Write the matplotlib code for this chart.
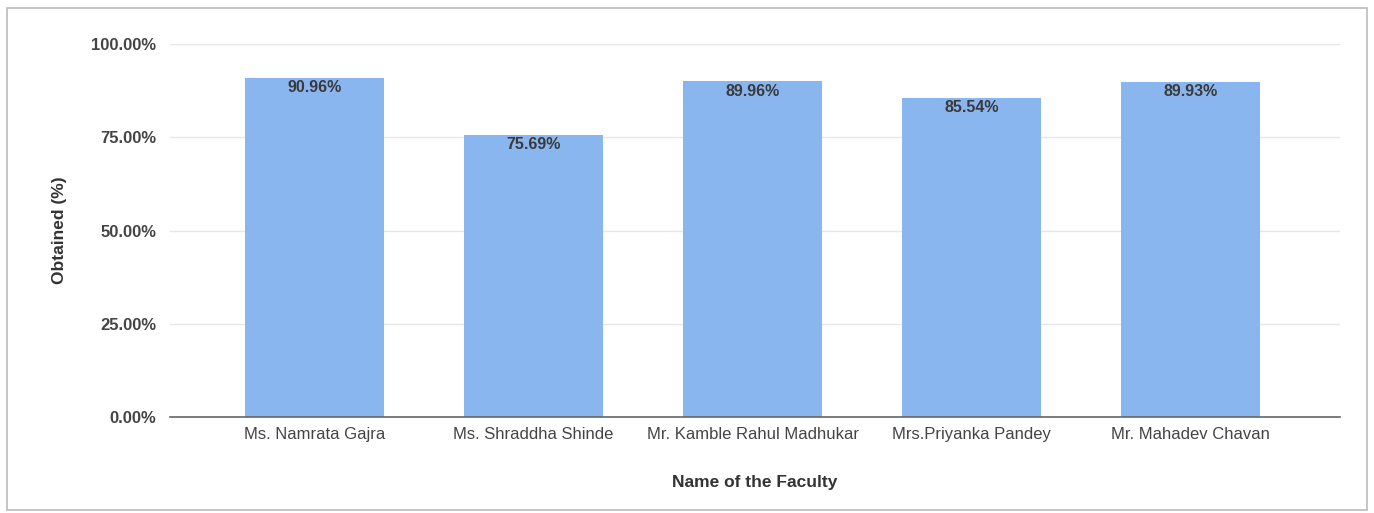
import matplotlib.pyplot as plt
from matplotlib.patches import Rectangle

plt.rcParams["font.family"] = ["Liberation Sans", "DejaVu Sans"]

faculty = ["Ms. Namrata Gajra", "Ms. Shraddha Shinde", "Mr. Kamble Rahul Madhukar",
           "Mrs.Priyanka Pandey", "Mr. Mahadev Chavan"]
obtained = [90.96, 75.69, 89.96, 85.54, 89.93]
yticks = [0, 25, 50, 75, 100]

fig = plt.figure(figsize=(13.74, 5.13), dpi=100)
ax = fig.add_axes([0.1237, 0.1871, 0.8513, 0.7271])

# moldura cinza em volta do gráfico
fig.patches.append(Rectangle((0.005, 0.006), 0.99, 0.978, transform=fig.transFigure,
                             fill=False, edgecolor="#bbbbbb", linewidth=1.2))

x = range(len(faculty))
bars = ax.bar(x, obtained, width=0.635, color="#8ab6f0", zorder=2)

for b, v in zip(bars, obtained):
    ax.annotate(f"{v:.2f}%", (b.get_x() + b.get_width() / 2, v), xytext=(0, -1.5),
                textcoords="offset points", ha="center", va="top",
                fontsize=11.5, fontweight="bold", color="#3a3a3a")

ax.set_xlim(-0.66, 4.68)
ax.set_ylim(0, 100)
ax.set_yticks(yticks)
ax.set_yticklabels([f"{t:.2f}%" for t in yticks], fontsize=12, fontweight="bold", color="#444444")
ax.set_xticks(list(x))
ax.set_xticklabels(faculty, fontsize=12, color="#444444")
ax.tick_params(length=0, pad=7)
ax.tick_params(axis="y", pad=10)

ax.grid(axis="y", color="#e6e6e6", linewidth=1, zorder=0)
for s in ["top", "right", "left"]:
    ax.spines[s].set_visible(False)
ax.spines["bottom"].set_color("#666666")
ax.spines["bottom"].set_linewidth(1.2)
ax.spines["bottom"].set_zorder(3)

ax.set_ylabel("Obtained (%)", fontsize=12.5, fontweight="bold", color="#333333", labelpad=17)
ax.set_xlabel("Name of the Faculty", fontsize=12.5, fontweight="bold", color="#333333", labelpad=24)

fig.savefig("out.png", dpi=100)
